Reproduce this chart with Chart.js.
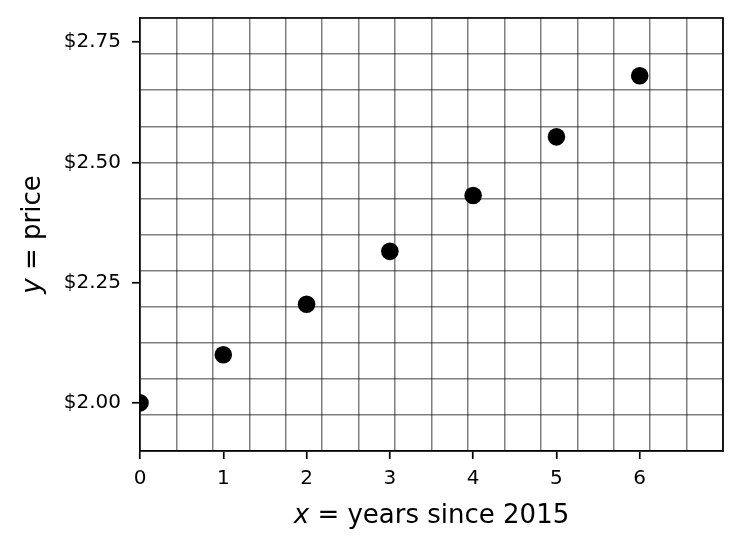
<!DOCTYPE html>
<html>
<head>
<meta charset="utf-8">
<script src="https://cdn.jsdelivr.net/npm/chart.js@4.4.1/dist/chart.umd.min.js"></script>
<style>
  html, body { margin: 0; padding: 0; background: #ffffff; }
  #wrap { width: 743px; height: 550px; }
</style>
</head>
<body>
<div id="wrap"><canvas id="c" width="743" height="550" style="width:743px;height:550px"></canvas></div>
<script>
// ---- data ----
const yearsSince2015 = [0, 1, 2, 3, 4, 5, 6];
const prices = [2.00, 2.10, 2.205, 2.315, 2.431, 2.553, 2.680];
const xTickValues = [0, 1, 2, 3, 4, 5, 6];
const yTickValues = [2.00, 2.25, 2.50, 2.75];
const yTickLabels = ['$2.00', '$2.25', '$2.50', '$2.75'];
const xRange = [0, 7];
const yRange = [1.9, 2.8];
const xGridDivisions = 16;
const yGridDivisions = 12;
const xTitleItalic = 'x';
const xTitleRest = ' = years since 2015';
const yTitleItalic = 'y';
const yTitleRest = ' = price';

const FONT = '"DejaVu Sans", "Liberation Sans", sans-serif';
const EPS = 1e-6;

function buildTicks(min, max, divisions, labelValues) {
  const step = (max - min) / divisions;
  const list = [];
  for (let k = 0; k <= divisions; k++) list.push({ value: min + k * step, grid: true, mark: false });
  labelValues.forEach(v => {
    const hit = list.find(t => Math.abs(t.value - v) < EPS);
    if (hit) hit.mark = true; else list.push({ value: v, grid: false, mark: true });
  });
  list.sort((a, b) => a.value - b.value);
  return list;
}
const xTicks = buildTicks(xRange[0], xRange[1], xGridDivisions, xTickValues);
const yTicks = buildTicks(yRange[0], yRange[1], yGridDivisions, yTickValues);
function info(list, v) { return list.find(t => Math.abs(t.value - v) < EPS) || { grid: false, mark: false }; }

const GRID = 'rgba(0,0,0,0.5)';
const SPINE = 1.7;

const framePlugin = {
  id: 'frameAndTitles',
  afterDraw(chart) {
    const ctx = chart.ctx;
    const a = chart.chartArea;
    ctx.save();
    // top & right spines
    ctx.strokeStyle = '#000';
    ctx.lineWidth = SPINE;
    ctx.beginPath();
    ctx.moveTo(a.left - SPINE / 2, a.top);
    ctx.lineTo(a.right, a.top);
    ctx.lineTo(a.right, a.bottom + SPINE / 2);
    ctx.stroke();
    // titles (mixed italic / upright)
    ctx.fillStyle = '#000';
    ctx.textBaseline = 'middle';
    ctx.textAlign = 'left';
    const it = 'italic 26px ' + FONT, nf = '26px ' + FONT;
    ctx.font = it; const w1 = ctx.measureText(xTitleItalic).width;
    ctx.font = nf; const w2 = ctx.measureText(xTitleRest).width;
    const cx = (a.left + a.right) / 2, sx = cx - (w1 + w2) / 2, cy = 516;
    ctx.font = it; ctx.fillText(xTitleItalic, sx, cy);
    ctx.font = nf; ctx.fillText(xTitleRest, sx + w1, cy);
    ctx.translate(33, (a.top + a.bottom) / 2);
    ctx.rotate(-Math.PI / 2);
    ctx.font = it; const v1 = ctx.measureText(yTitleItalic).width;
    ctx.font = nf; const v2 = ctx.measureText(yTitleRest).width;
    const s = -(v1 + v2) / 2;
    ctx.font = it; ctx.fillText(yTitleItalic, s, 0);
    ctx.font = nf; ctx.fillText(yTitleRest, s + v1, 0);
    ctx.restore();
  }
};

new Chart(document.getElementById('c'), {
  type: 'scatter',
  data: {
    datasets: [{
      data: yearsSince2015.map((x, i) => ({ x: x, y: prices[i] })),
      backgroundColor: '#000000',
      borderColor: '#000000',
      borderWidth: 0,
      pointRadius: 8.8,
      pointHoverRadius: 8.8,
      clip: 0
    }]
  },
  options: {
    responsive: false,
    animation: false,
    devicePixelRatio: 1,
    layout: { padding: { left: 0, right: 20, top: 18, bottom: 0 }, autoPadding: false },
    plugins: { legend: { display: false }, tooltip: { enabled: false } },
    scales: {
      x: {
        type: 'linear',
        min: xRange[0], max: xRange[1],
        afterBuildTicks(scale) { scale.ticks = xTicks.map(t => ({ value: t.value })); },
        afterFit(scale) { scale.height = 99; scale.paddingLeft = 0; scale.paddingRight = 0; },
        border: { display: true, color: '#000', width: SPINE },
        grid: {
          color: ctx => (ctx.tick && info(xTicks, ctx.tick.value).grid) ? GRID : 'rgba(0,0,0,0)',
          tickColor: ctx => (ctx.tick && info(xTicks, ctx.tick.value).mark) ? '#000' : 'rgba(0,0,0,0)',
          lineWidth: 1.5,
          tickWidth: SPINE,
          tickLength: 8,
          drawTicks: true
        },
        ticks: {
          autoSkip: false, maxRotation: 0, minRotation: 0,
          padding: 8,
          color: '#000',
          font: { family: FONT, size: 20 },
          callback(v) {
            const i = xTickValues.findIndex(t => Math.abs(t - v) < EPS);
            return i >= 0 ? String(xTickValues[i]) : '';
          }
        }
      },
      y: {
        type: 'linear',
        min: yRange[0], max: yRange[1],
        afterBuildTicks(scale) { scale.ticks = yTicks.map(t => ({ value: t.value })); },
        afterFit(scale) { scale.width = 140; scale.paddingTop = 0; scale.paddingBottom = 0; },
        border: { display: true, color: '#000', width: SPINE },
        grid: {
          color: ctx => (ctx.tick && info(yTicks, ctx.tick.value).grid) ? GRID : 'rgba(0,0,0,0)',
          tickColor: ctx => (ctx.tick && info(yTicks, ctx.tick.value).mark) ? '#000' : 'rgba(0,0,0,0)',
          lineWidth: 1.5,
          tickWidth: SPINE,
          tickLength: 8,
          drawTicks: true
        },
        ticks: {
          autoSkip: false,
          padding: 11,
          color: '#000',
          font: { family: FONT, size: 20 },
          callback(v) {
            const i = yTickValues.findIndex(t => Math.abs(t - v) < EPS);
            return i >= 0 ? yTickLabels[i] : '';
          }
        }
      }
    }
  },
  plugins: [framePlugin]
});
</script>
</body>
</html>
